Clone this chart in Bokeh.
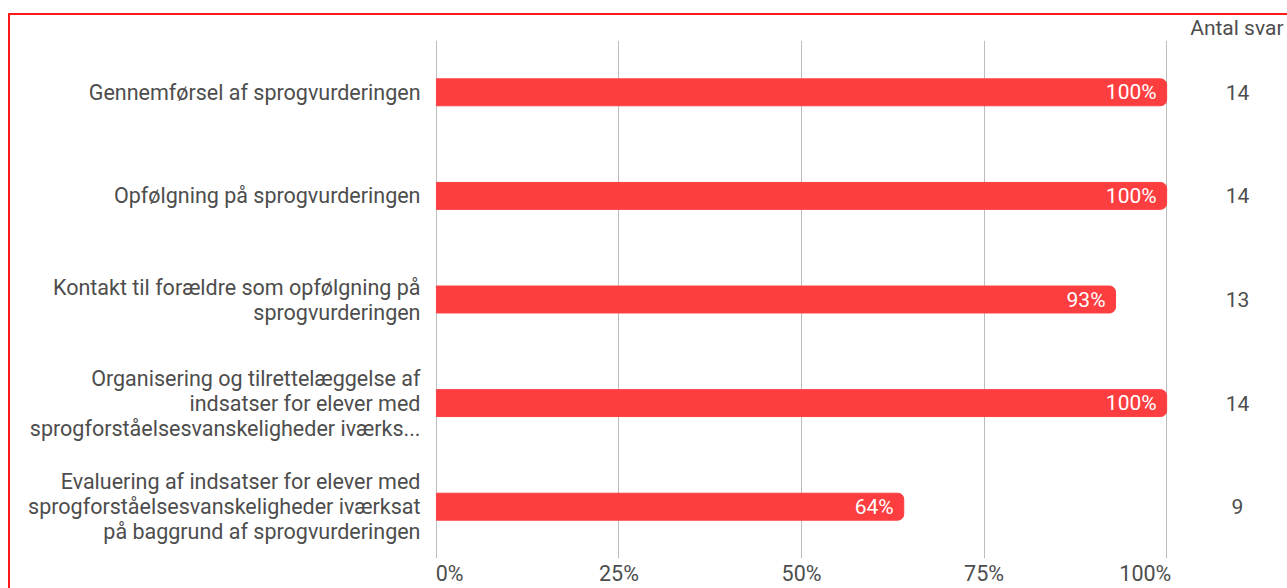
from bokeh.plotting import figure
from bokeh.models import (ColumnDataSource, Range1d, FixedTicker, Title)
from bokeh.embed import file_html
from bokeh.resources import INLINE
from bokeh.core.properties import value

categories = [
    "Gennemførsel af sprogvurderingen",
    "Opfølgning på sprogvurderingen",
    "Kontakt til forældre som opfølgning på\nsprogvurderingen",
    "Organisering og tilrettelæggelse af\nindsatser for elever med\nsprogforståelsesvanskeligheder iværks...",
    "Evaluering af indsatser for elever med\nsprogforståelsesvanskeligheder iværksat\npå baggrund af sprogvurderingen",
]
percent = [100, 100, 93, 100, 64]
counts = [14, 14, 13, 14, 9]
x_ticks = [0, 25, 50, 75, 100]
x_tick_labels = ["0%", "25%", "50%", "75%", "100%"]
count_header = "Antal svar"

FONT = "Roboto"
RED = "#fd3e41"
TXT = "#4d4d4d"
NB = "\u00a0"

pos = list(range(len(categories)))
src = ColumnDataSource(dict(
    y=pos,
    pct=percent,
    pct_label=[f"{v}%" for v in percent],
    cnt=[str(c) for c in counts],
    cnt_x=[109.7] * len(counts),
))

p = figure(width=1287, height=588, output_backend="svg", toolbar_location=None,
           x_range=Range1d(-0.12, 116.55), y_range=Range1d(4.5, -0.5),
           min_border_left=435, min_border_right=0, min_border_top=40,
           min_border_bottom=29)
p.outline_line_color = None
p.background_fill_color = "white"
p.border_fill_color = "white"

p.hbar(y="y", left=0, right="pct", height=0.26, source=src, color=RED,
       border_radius=(0, 6, 6, 0))

p.text(x="pct", y="y", text="pct_label", source=src, x_offset=-10,
       text_align="right", text_baseline="middle", text_color="white",
       text_font=value(FONT), text_font_size="21px")

p.text(x="cnt_x", y="y", text="cnt", source=src,
       text_align="center", text_baseline="middle", text_color=TXT,
       text_font=value(FONT), text_font_size="21px")

# x axis (first/last labels nudged inwards like the original)
x_label_text = list(x_tick_labels)
x_label_text[0] = NB * 5 + x_label_text[0]
x_label_text[-1] = x_label_text[-1] + NB * 8
p.xaxis.ticker = FixedTicker(ticks=x_ticks)
p.xaxis.major_label_overrides = {t: l for t, l in zip(x_ticks, x_label_text)}
p.xaxis.axis_line_color = None
p.xaxis.major_tick_line_color = None
p.xaxis.major_tick_out = 0
p.xaxis.major_tick_in = 0
p.xaxis.minor_tick_line_color = None
p.xaxis.minor_tick_out = 0
p.xaxis.major_label_standoff = 2
p.xaxis.major_label_text_font = FONT
p.xaxis.major_label_text_font_size = "21.5px"
p.xaxis.major_label_text_color = TXT

# y axis
p.yaxis.ticker = FixedTicker(ticks=pos)
p.yaxis.major_label_overrides = {i: c for i, c in zip(pos, categories)}
p.yaxis.axis_line_color = None
p.yaxis.major_tick_line_color = None
p.yaxis.major_tick_out = 0
p.yaxis.major_tick_in = 0
p.yaxis.minor_tick_line_color = None
p.yaxis.minor_tick_out = 0
p.yaxis.major_label_standoff = 15
p.yaxis.major_label_text_font = FONT
p.yaxis.major_label_text_font_size = "21.5px"
p.yaxis.major_label_text_line_height = 1.0
p.yaxis.major_label_text_color = TXT

p.xgrid.ticker = FixedTicker(ticks=x_ticks)
p.xgrid.grid_line_color = "#bcbcbc"
p.xgrid.grid_line_width = 1
p.ygrid.grid_line_color = None

p.add_layout(Title(text=count_header, align="right", offset=4, standoff=2,
                   text_font=FONT, text_font_size="21px", text_font_style="normal",
                   text_color=TXT), "above")

# red frame around the chart area
p.stylesheets = [
    ":host::after { content: ''; position: absolute; left: 8px; top: 13px; "
    "right: 0; bottom: 0; border-top: 2px solid #ff1a1a; "
    "border-left: 2px solid #ff1a1a; pointer-events: none; }"
]

open("out.html", "w").write(file_html(p, INLINE))
